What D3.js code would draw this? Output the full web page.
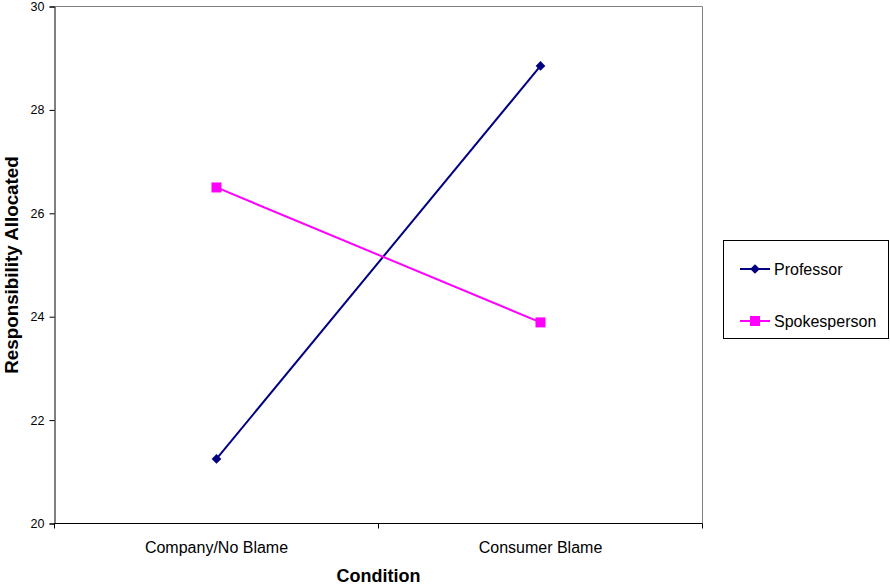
<!DOCTYPE html>
<html><head><meta charset="utf-8">
<script src="https://cdn.jsdelivr.net/npm/d3@7"></script>
<style>body{margin:0;background:#fff;font-family:"Liberation Sans",Arial,sans-serif;}</style>
</head><body><svg id="c" width="890" height="586"></svg>
<script>
const categories = ["Company/No Blame", "Consumer Blame"];
const professor = [21.25, 28.85];
const spokesperson = [26.5, 23.89];
const yTicks = [20, 22, 24, 26, 28, 30];
const seriesNames = ["Professor", "Spokesperson"];
const seriesColors = ["#000080", "#FF00FF"];

const svg = d3.select("#c");
const L = 54.5, R = 702.5, T = 6.5, B = 523.5;
const x = d3.scaleBand().domain(categories).range([L, R]);
const y = d3.scaleLinear().domain([20, 30]).range([B, T]);

// plot border (grey top/right)
svg.append("path").attr("d", `M${L},${T}H${R}V${B}`).attr("fill","none").attr("stroke","#808080").attr("stroke-width",1);

// y axis
const ya = svg.append("g").attr("transform",`translate(${L},0)`).call(d3.axisLeft(y).tickValues(yTicks).tickSize(5).tickPadding(5).tickFormat(d3.format("d")));
ya.select(".domain").attr("stroke","#000");
ya.selectAll("text").attr("font-size",12.5).attr("font-family","Liberation Sans, Arial, sans-serif").attr("fill","#000");

// x axis with ticks at band edges
const xa = svg.append("g").attr("transform",`translate(0,${B})`);
xa.append("line").attr("x1",L).attr("x2",R).attr("y1",0).attr("y2",0).attr("stroke","#000");
const edges = categories.map(c => x(c)).concat([x(categories[categories.length-1]) + x.bandwidth()]);
xa.selectAll(".tk").data(edges).enter().append("line").attr("x1",d=>d).attr("x2",d=>d).attr("y1",0).attr("y2",5).attr("stroke","#000");
xa.selectAll(".lb").data(categories).enter().append("text")
  .attr("x",d=>x(d)+x.bandwidth()/2).attr("y",29.5).attr("text-anchor","middle")
  .attr("font-size",16).attr("fill","#000").text(d=>d);

// axis titles
svg.append("text").attr("x",(L+R)/2).attr("y",582).attr("text-anchor","middle").attr("font-size",18).attr("font-weight","bold").text("Condition");
svg.append("text").attr("transform",`translate(18,265) rotate(-90)`).attr("text-anchor","middle").attr("font-size",18.8).attr("font-weight","bold").text("Responsibility Allocated");

const cx = d => x(d) + x.bandwidth()/2;
const line = d3.line().x(d=>cx(d.c)).y(d=>y(d.v));
const data = [professor, spokesperson].map(arr => categories.map((c,i)=>({c, v: arr[i]})));

data.forEach((pts, si) => {
  svg.append("path").datum(pts).attr("d", line).attr("fill","none").attr("stroke", seriesColors[si]).attr("stroke-width", 2);
});
// markers
svg.selectAll(".pm").data(data[0]).enter().append("path")
  .attr("d", d3.symbol().type(d3.symbolDiamond2).size(60))
  .attr("transform", d=>`translate(${cx(d.c)},${y(d.v)})`).attr("fill", seriesColors[0]);
svg.selectAll(".sm").data(data[1]).enter().append("rect")
  .attr("x", d=>cx(d.c)-5).attr("y", d=>y(d.v)-5).attr("width",10).attr("height",10).attr("fill", seriesColors[1]);

// legend
const lg = svg.append("g");
lg.append("rect").attr("x",723.5).attr("y",240.5).attr("width",165).attr("height",98).attr("fill","#fff").attr("stroke","#000");
const ly = [269, 321];
seriesNames.forEach((n,i)=>{
  lg.append("line").attr("x1",740).attr("x2",770).attr("y1",ly[i]).attr("y2",ly[i]).attr("stroke",seriesColors[i]).attr("stroke-width",2);
  if (i===0) lg.append("path").attr("d", d3.symbol().type(d3.symbolDiamond2).size(60)).attr("transform",`translate(755,${ly[i]})`).attr("fill",seriesColors[i]);
  else lg.append("rect").attr("x",750).attr("y",ly[i]-5).attr("width",10).attr("height",10).attr("fill",seriesColors[i]);
  lg.append("text").attr("x",774).attr("y",ly[i]+5.5).attr("font-size",16).attr("fill","#000").text(n);
});
</script></body></html>
